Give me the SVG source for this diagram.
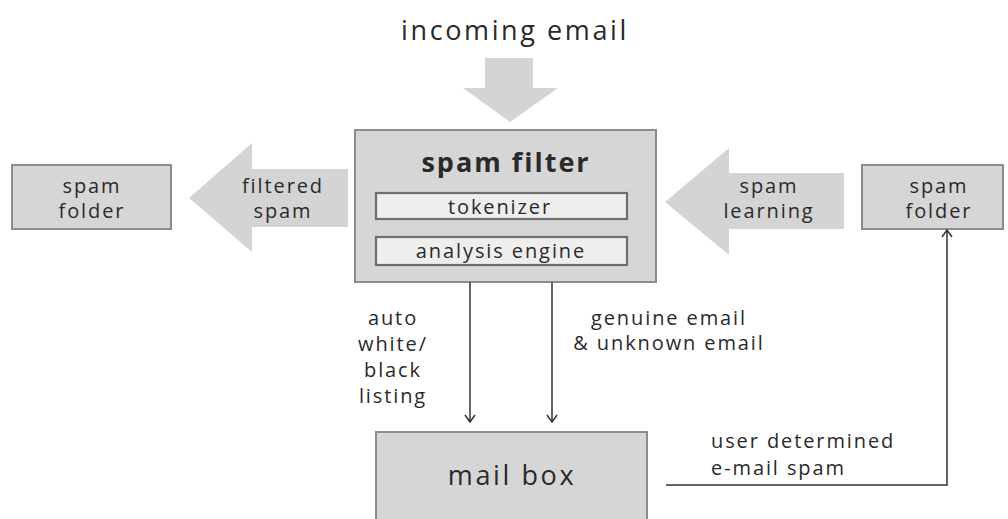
<svg xmlns="http://www.w3.org/2000/svg" width="1008" height="519" viewBox="0 0 1008 519">
  <style>
    text { font-family: "Open Sans", "Noto Sans", "DejaVu Sans", sans-serif; fill: #2a2a2a; }
    .c { text-anchor: middle; }
    .s { text-anchor: start; }
    .box { fill: #d6d6d6; stroke: #8c8c8c; stroke-width: 2; }
    .inner { fill: #eeeeee; stroke: #6e6e6e; stroke-width: 2.2; }
    .big { font-size: 27px; letter-spacing: 2.6px; }
    .title { font-size: 27px; font-weight: bold; letter-spacing: 2px; }
    .mid { font-size: 20px; letter-spacing: 1.9px; }
    .lbl { font-size: 20px; letter-spacing: 1.9px; }
    .fat { fill: #d4d4d4; stroke: none; }
    .wire { fill: none; stroke: #333; stroke-width: 1.5; }
  </style>
  <defs>
    <marker id="vhead" viewBox="0 0 12 12" refX="11" refY="6" markerWidth="12" markerHeight="12" markerUnits="userSpaceOnUse" orient="auto">
      <path d="M4,1 L11,6 L4,11" fill="none" stroke="#333" stroke-width="1.5"/>
    </marker>
  </defs>
  <rect width="1008" height="519" fill="#ffffff"/>

  <!-- incoming email -->
  <g id="incoming">
    <text class="big c" x="515" y="40">incoming email</text>
    <path class="fat" d="M485,58 H533 V88 H558 L510,122 L463,88 H485 Z"/>
  </g>

  <!-- spam filter with its two stages -->
  <g id="spam-filter">
    <rect class="box" x="355" y="130" width="301" height="152"/>
    <text class="title c" x="506" y="172">spam filter</text>
    <rect class="inner" x="376" y="193" width="251" height="26"/>
    <text class="mid c" x="500" y="214">tokenizer</text>
    <rect class="inner" x="376" y="237" width="251" height="28"/>
    <text class="mid c" x="501" y="258">analysis engine</text>
  </g>

  <!-- filtered spam (block arrow pointing left) -->
  <g id="filtered-spam">
    <path class="fat" d="M348,169 V227 H252 V252 L189,198 L252,143 V169 Z"/>
    <text class="lbl c" x="283" y="193">filtered</text>
    <text class="lbl c" x="283" y="218">spam</text>
  </g>

  <!-- spam learning (block arrow pointing left) -->
  <g id="spam-learning">
    <path class="fat" d="M844,173 V229 H729 V255 L665,202 L729,148 V173 Z"/>
    <text class="lbl c" x="769" y="193">spam</text>
    <text class="lbl c" x="769" y="218">learning</text>
  </g>

  <!-- left spam folder -->
  <g id="spam-folder-left">
    <rect class="box" x="12" y="165" width="159" height="64"/>
    <text class="lbl c" x="92" y="193">spam</text>
    <text class="lbl c" x="92" y="218">folder</text>
  </g>

  <!-- right spam folder -->
  <g id="spam-folder-right">
    <rect class="box" x="862" y="165" width="141" height="64"/>
    <text class="lbl c" x="939" y="193">spam</text>
    <text class="lbl c" x="939" y="218">folder</text>
  </g>

  <!-- mail box -->
  <g id="mail-box">
    <rect class="box" x="376" y="432" width="271" height="100"/>
    <text class="big c" x="512" y="485">mail box</text>
  </g>

  <!-- connectors -->
  <g id="connectors">
    <line class="wire" x1="470" y1="282" x2="470" y2="422" marker-end="url(#vhead)"/>
    <line class="wire" x1="552" y1="282" x2="552" y2="422" marker-end="url(#vhead)"/>
    <polyline class="wire" points="666,485 947,485 947,230" marker-end="url(#vhead)"/>
  </g>

  <!-- connector labels -->
  <g id="labels">
    <text class="lbl c" x="393" y="325">auto</text>
    <text class="lbl c" x="393" y="351">white/</text>
    <text class="lbl c" x="393" y="377">black</text>
    <text class="lbl c" x="393" y="403">listing</text>
    <text class="lbl c" x="669" y="325">genuine email</text>
    <text class="lbl c" x="669" y="350">&amp; unknown email</text>
    <text class="lbl s" x="711" y="448">user determined</text>
    <text class="lbl s" x="711" y="475">e-mail spam</text>
  </g>
</svg>
